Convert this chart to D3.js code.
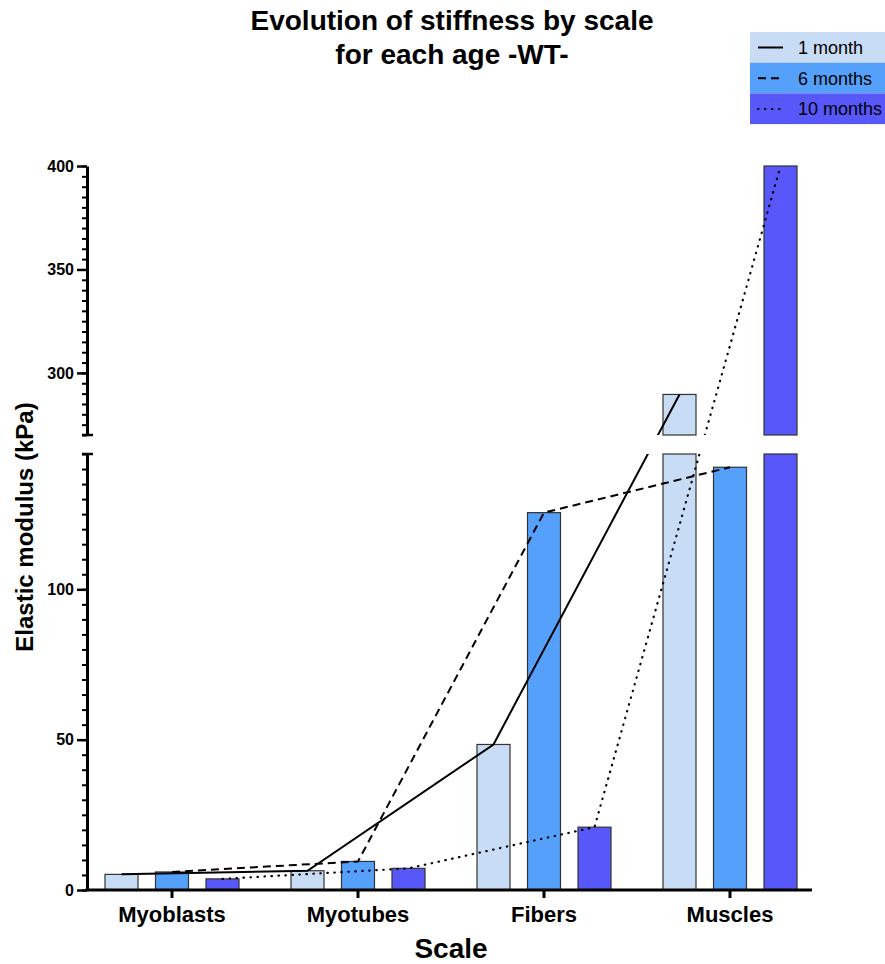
<!DOCTYPE html>
<html><head><meta charset="utf-8">
<script src="https://cdn.jsdelivr.net/npm/d3@7"></script>
<style>body{margin:0;background:#fff}svg{display:block}text{font-family:"Liberation Sans",Arial,sans-serif}</style>
</head><body>
<script>
const categories = ["Myoblasts","Myotubes","Fibers","Muscles"];
const seriesNames = ["1 month","6 months","10 months"];
const values1m  = [5.2, 6.4, 48.4, 289.6];
const values6m  = [6.0, 9.5, 125.5, 140.6];
const values10m = [3.7, 7.2, 20.9, 400];
const lowerTicks = [0, 50, 100];
const upperTicks = [300, 350, 400];
const colors = ["#c8dcf6", "#55a0fb", "#5757fa"];
const dashes = [null, "8,5", "0.5,6.5"];

const series = [values1m, values6m, values10m];
const W = 885, H = 964;
const svg = d3.select("body").append("svg").attr("width", W).attr("height", H);

const lowerDomain = [0, 145], upperDomain = [270, 400];
const yLow = d3.scaleLinear().domain(lowerDomain).range([890, 454]);
const yUp = d3.scaleLinear().domain(upperDomain).range([435, 166]);
const y = v => v <= lowerDomain[1] ? yLow(v) : yUp(Math.max(v, upperDomain[0]));

const x = d3.scaleBand().domain(categories).range([79, 823]).padding(0);
const p = 0.3465;
const xs = d3.scaleBand().domain(seriesNames).range([-75.75, 75.75]).paddingInner(p).paddingOuter(p/2);
const cx = (ci, si) => x(categories[ci]) + x.bandwidth()/2 + xs(seriesNames[si]) + xs.bandwidth()/2;

// Bars
const gBars = svg.append("g");
series.forEach((vals, si) => {
  vals.forEach((v, ci) => {
    const x0 = cx(ci, si) - xs.bandwidth()/2;
    const lowTop = yLow(Math.min(v, lowerDomain[1]));
    gBars.append("rect").attr("x", x0).attr("y", lowTop).attr("width", xs.bandwidth()).attr("height", 890 - lowTop)
      .attr("fill", colors[si]).attr("stroke", "#333").attr("stroke-width", 1.2);
    if (v > lowerDomain[1]) {
      const upTop = yUp(Math.min(v, upperDomain[1]));
      gBars.append("rect").attr("x", x0).attr("y", upTop).attr("width", xs.bandwidth()).attr("height", yUp(upperDomain[0]) - upTop)
        .attr("fill", colors[si]).attr("stroke", "#333").attr("stroke-width", 1.2);
    }
  });
});

// Clip for lines excluding the break gap
const defs = svg.append("defs");
const cp = defs.append("clipPath").attr("id", "brk");
cp.append("rect").attr("x", 0).attr("y", 0).attr("width", W).attr("height", yUp(upperDomain[0]));
cp.append("rect").attr("x", 0).attr("y", yLow(lowerDomain[1])).attr("width", W).attr("height", H);

const line = d3.line().x(d => d[0]).y(d => d[1]);
const gLines = svg.append("g").attr("clip-path", "url(#brk)");
series.forEach((vals, si) => {
  const pts = vals.map((v, ci) => [cx(ci, si), y(v)]);
  gLines.append("path").attr("d", line(pts)).attr("fill", "none").attr("stroke", "#000")
    .attr("stroke-width", si === 2 ? 2.2 : 2).attr("stroke-dasharray", dashes[si]).attr("stroke-linecap", si === 2 ? "round" : "butt");
});

// Y axes
const axX = 87;
function drawY(scale, domain, majors) {
  const minors = d3.range(domain[0], domain[1] + 0.1, 5);
  const gm = svg.append("g").attr("transform", `translate(${axX},0)`)
    .call(d3.axisLeft(scale).tickValues(minors).tickSize(5).tickFormat(""));
  gm.selectAll(".tick line").attr("stroke", "#000").attr("stroke-width", 2);
  gm.select(".domain").remove();
  const g = svg.append("g").attr("transform", `translate(${axX},0)`)
    .call(d3.axisLeft(scale).tickValues(majors).tickSize(10).tickSizeOuter(0).tickPadding(3));
  g.select(".domain").attr("stroke", "#000").attr("stroke-width", 3);
  g.selectAll(".tick line").attr("stroke", "#000").attr("stroke-width", 2.5);
  g.selectAll(".tick text").attr("font-size", 16).attr("font-weight", "bold").attr("fill", "#000")
    .attr("font-family", "'Liberation Sans', Arial, sans-serif");
}
drawY(yLow, lowerDomain, lowerTicks);
drawY(yUp, upperDomain, upperTicks);
// break caps
[yUp(upperDomain[0]), yLow(lowerDomain[1])].forEach(yy => {
  svg.append("line").attr("x1", axX - 5).attr("x2", axX + 6).attr("y1", yy).attr("y2", yy)
    .attr("stroke", "#000").attr("stroke-width", 2.5);
});

// X axis
const gx = svg.append("g").attr("transform", "translate(0,890)")
  .call(d3.axisBottom(x).tickSize(8).tickSizeOuter(0).tickPadding(8));
gx.select(".domain").attr("d", `M${axX - 1.5},0H812`).attr("stroke", "#000").attr("stroke-width", 3);
gx.selectAll(".tick line").attr("stroke", "#000").attr("stroke-width", 3);
gx.selectAll(".tick text").attr("font-size", 22).attr("font-weight", "bold").attr("fill", "#000")
  .attr("font-family", "'Liberation Sans', Arial, sans-serif");

// Axis titles
svg.append("text").attr("x", 451).attr("y", 958).attr("text-anchor", "middle")
  .attr("font-size", 28).attr("font-weight", "bold").text("Scale");
svg.append("text").attr("transform", "translate(33,527) rotate(-90)").attr("text-anchor", "middle")
  .attr("font-size", 24).attr("font-weight", "bold").text("Elastic modulus (kPa)");

// Title
svg.append("text").attr("x", 452).attr("y", 30).attr("text-anchor", "middle")
  .attr("font-size", 28).attr("font-weight", "bold").text("Evolution of stiffness by scale");
svg.append("text").attr("x", 452).attr("y", 64).attr("text-anchor", "middle")
  .attr("font-size", 28).attr("font-weight", "bold").text("for each age -WT-");

// Legend
const lg = svg.append("g").attr("transform", "translate(750,32)");
seriesNames.forEach((n, i) => {
  const r = lg.append("g").attr("transform", `translate(0,${i * 30.7})`);
  r.append("rect").attr("width", 140).attr("height", 30.7).attr("fill", colors[i]);
  r.append("line").attr("x1", 8).attr("x2", 33).attr("y1", 15.5).attr("y2", 15.5).attr("stroke", "#000")
    .attr("stroke-width", 2).attr("stroke-dasharray", dashes[i]).attr("stroke-linecap", i === 2 ? "round" : "butt");
  r.append("text").attr("x", 48).attr("y", 22).attr("font-size", 18).attr("fill", "#000").text(n);
});
</script>
</body></html>
